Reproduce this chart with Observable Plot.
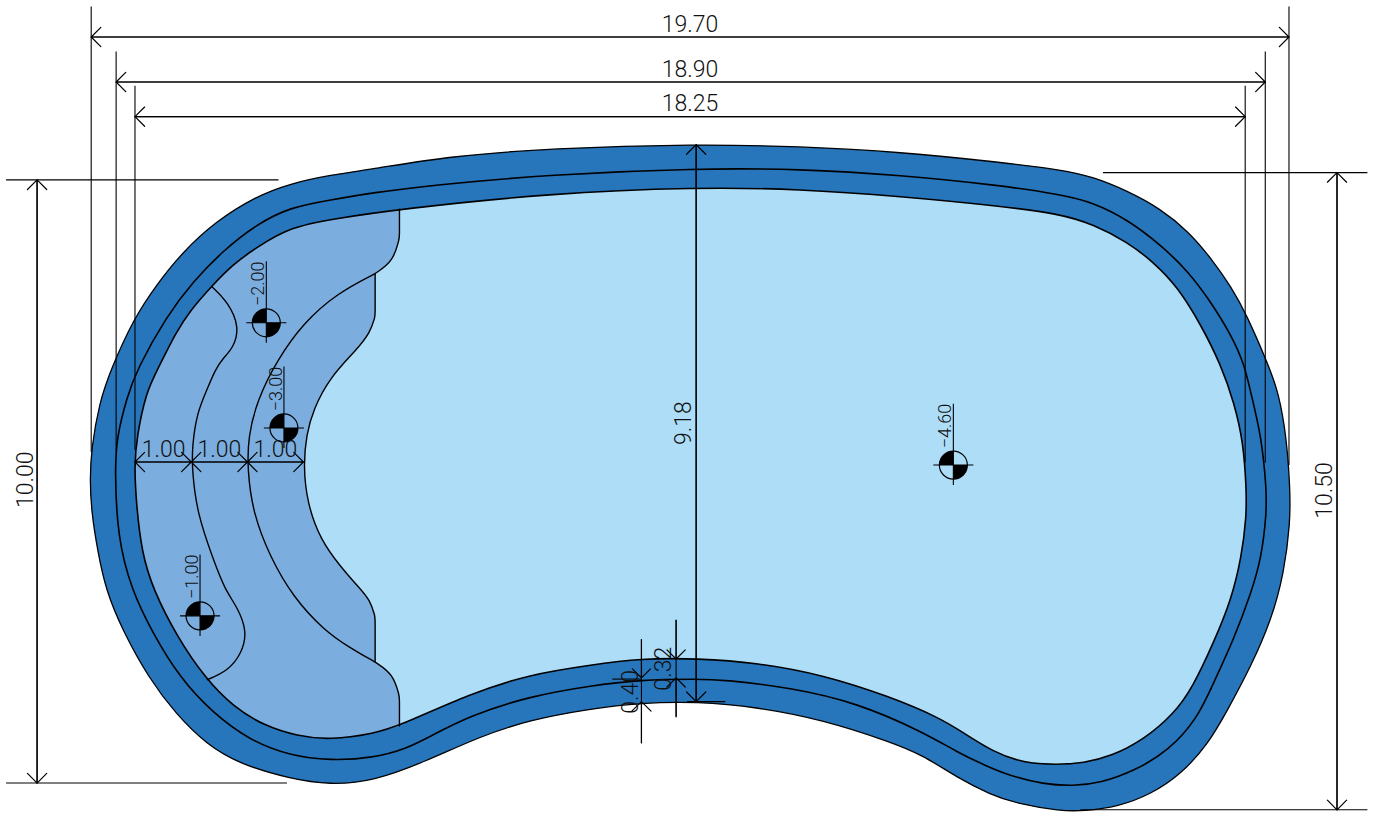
<!DOCTYPE html>
<html>
<head>
<meta charset="utf-8">
<script src="https://cdn.jsdelivr.net/npm/d3@7"></script>
<script src="https://cdn.jsdelivr.net/npm/@observablehq/plot@0.6"></script>
<style>html,body{margin:0;padding:0;background:#fff}svg{display:block}</style>
</head>
<body>
<div id="chart"></div>
<script>
// All geometry in metres.
const outerEdge = [[9.95,10.95],[11.66,10.91],[13.31,10.82],[14.95,10.65],[15.94,10.53],[16.48,10.41],[17.04,10.18],[17.58,9.89],[18.05,9.51],[18.42,9.07],[18.75,8.60],[19.00,8.15],[19.36,7.32],[19.53,6.86],[19.66,6.13],[19.72,5.26],[19.72,4.72],[19.62,3.90],[19.41,3.12],[19.07,2.35],[18.69,1.64],[18.37,1.08],[17.93,0.59],[17.44,0.26],[16.89,0.05],[16.32,-0.02],[15.94,-0.02],[15.23,0.10],[14.79,0.25],[14.24,0.53],[13.68,0.90],[13.14,1.12],[12.04,1.48],[10.95,1.69],[9.97,1.78],[9.03,1.76],[8.21,1.66],[7.22,1.48],[6.40,1.21],[5.49,0.79],[4.64,0.47],[3.93,0.41],[3.27,0.51],[2.45,0.75],[1.89,1.08],[1.39,1.58],[0.95,2.16],[0.51,2.96],[0.24,3.62],[0.11,4.23],[0,4.93],[-0.02,5.43],[0,5.92],[0.13,6.69],[0.33,7.26],[0.70,8.08],[1.07,8.63],[1.49,9.16],[2.05,9.68],[2.71,10.09],[3.27,10.30],[3.93,10.44],[4.64,10.54],[5.90,10.75],[7.55,10.88]];
const middleEdge = [[9.95,10.55],[11.66,10.54],[13.31,10.44],[14.95,10.27],[15.94,10.12],[16.48,9.99],[17.04,9.71],[17.58,9.30],[18.04,8.86],[18.41,8.36],[18.75,7.81],[18.97,7.32],[19.07,6.86],[19.25,6.13],[19.33,5.26],[19.33,4.88],[19.25,4.16],[19.08,3.57],[18.79,2.80],[18.46,2.09],[18.20,1.51],[17.72,0.97],[17.16,0.64],[16.60,0.44],[16.15,0.39],[15.66,0.42],[15.11,0.56],[14.70,0.73],[14.24,0.95],[13.68,1.28],[12.60,1.76],[11.50,2.01],[10.39,2.14],[9.97,2.15],[9.03,2.14],[8.21,2.04],[7.22,1.87],[6.23,1.55],[5.58,1.21],[5.20,1.01],[4.64,0.85],[3.93,0.81],[3.27,0.89],[2.61,1.14],[2.00,1.59],[1.45,2.18],[1.01,2.91],[0.66,3.62],[0.43,4.50],[0.39,5.59],[0.42,6.13],[0.59,6.79],[0.75,7.24],[1.24,8.12],[1.67,8.68],[2.16,9.19],[2.72,9.63],[3.27,9.91],[3.93,10.03],[4.64,10.15],[5.58,10.27],[7.55,10.45]];
const innerEdge = [[9.95,10.24],[11.66,10.21],[13.31,10.09],[14.95,9.93],[15.94,9.80],[16.48,9.63],[17.04,9.34],[17.47,9.01],[17.87,8.60],[18.25,7.98],[18.58,7.32],[18.80,6.69],[18.95,6.04],[19.00,5.26],[19.00,4.82],[18.92,4.16],[18.75,3.45],[18.46,2.75],[18.12,2.02],[17.81,1.58],[17.32,1.16],[16.78,0.88],[16.32,0.77],[15.89,0.74],[15.33,0.77],[14.84,0.95],[14.34,1.27],[13.96,1.51],[13.14,1.86],[12.04,2.22],[10.95,2.42],[9.97,2.49],[9.03,2.49],[8.21,2.38],[7.22,2.23],[6.23,1.91],[5.07,1.38],[4.64,1.25],[3.93,1.15],[3.39,1.21],[2.83,1.39],[2.34,1.69],[1.87,2.17],[1.41,2.85],[1.02,3.62],[0.83,4.23],[0.74,5.05],[0.71,5.67],[0.75,6.13],[0.90,6.86],[1.09,7.24],[1.40,7.86],[1.62,8.20],[1.98,8.61],[2.33,8.97],[2.72,9.25],[3.27,9.58],[3.93,9.71],[5.07,9.88],[7.55,10.14]];
const stepEdgeDeep = [[5.07,9.88],[5.07,9.88],[5.07,9.88],[5.07,9.41],[5.07,9.41],[4.97,9.02],[4.67,8.82],[4.67,8.82],[4.67,8.82],[4.67,8.12],[4.67,8.12],[4.59,7.85],[4.37,7.57],[3.93,7.12],[3.65,6.58],[3.54,6.17],[3.49,5.67],[3.55,5.05],[3.77,4.44],[4.10,4.00],[4.39,3.67],[4.59,3.45],[4.67,3.17],[4.67,3.17],[4.67,2.43],[4.67,2.43],[4.67,2.43],[4.97,2.23],[5.07,1.86],[5.07,1.86],[5.07,1.38],[5.07,1.38],[5.07,1.38]];
const shallowWall = [[4.64,1.25],[3.93,1.15],[3.39,1.21],[2.83,1.39],[2.34,1.69],[1.87,2.17],[1.41,2.85],[1.02,3.62],[0.83,4.23],[0.74,5.05],[0.71,5.67],[0.75,6.13],[0.90,6.86],[1.09,7.24],[1.40,7.86],[1.62,8.20],[1.98,8.61],[2.33,8.97],[2.72,9.25],[3.27,9.58],[3.93,9.71]];
const stepEdgeMid = [[4.67,8.82],[4.05,8.50],[3.49,8.01],[3.06,7.40],[2.73,6.74],[2.58,6.13],[2.57,5.59],[2.66,4.88],[2.94,4.16],[3.32,3.50],[3.82,2.96],[4.26,2.66],[4.67,2.43]];
const stepEdgeTop = [[1.99,8.60],[2.25,8.35],[2.44,7.94],[2.34,7.60],[2.17,7.43],[2.04,7.24],[1.90,6.90],[1.74,6.53],[1.66,5.97],[1.66,5.59],[1.74,4.88],[2.01,4.11],[2.20,3.62],[2.40,3.34],[2.57,2.93],[2.47,2.56],[2.24,2.28],[1.91,2.14]];

const levelText = ["−4.60","−3.00","−2.00","−1.00"];
const levelX = [14.18,3.17,2.88,1.79];
const levelY = [5.67,6.28,8.01,3.19];

// [x1,y1,x2,y2]
const dimensionLines = [
  [0,12.71,19.70,12.71],[0.41,11.97,19.31,11.97],[0.72,11.40,18.98,11.40],
  [-0.89,10.36,-0.89,0.44],[20.49,10.48,20.49,0],[9.95,10.94,9.95,1.78],
  [0.72,5.72,1.645,5.72],[1.645,5.72,2.57,5.72],[2.57,5.72,3.49,5.72]
];
const outsideArrows = [
  [9.05,2.80,9.05,2.17],[9.05,1.10,9.05,1.78],
  [9.62,3.12,9.62,2.48],[9.62,1.53,9.62,2.17]
];
const extensionLines = [
  [0,13.21,0,5.89],[19.70,13.21,19.70,5.67],
  [0.41,12.47,0.41,5.89],[19.31,12.47,19.31,5.71],
  [0.72,11.91,0.72,5.92],[18.98,11.91,18.98,5.71],
  [-1.40,10.36,3.08,10.36],[-1.40,0.44,3.22,0.44],
  [16.64,10.48,20.99,10.48],[16.27,0,20.99,0],
  [9.05,2.80,9.05,1.10],[9.62,3.12,9.62,1.53],
  [8.57,2.15,9.05,2.15],[9.80,1.78,10.43,1.78]
];
const horizontalLabels = ["19.70","18.90","18.25","1.00","1.00","1.00"];
const horizontalLabelX = [9.85,9.85,9.85,1.19,2.11,3.03];
const horizontalLabelY = [12.91,12.17,11.61,5.93,5.93,5.93];
const verticalLabels = ["10.00","10.50","9.18","0.40","0.32"];
const verticalLabelX = [-1.08,20.29,9.74,8.88,9.42];
const verticalLabelY = [5.43,5.25,6.36,1.94,2.32];

const bandBlue = "#2775BB", stairBlue = "#7BAEDF", poolBlue = "#AEDDF8";
const ink = "#000", labelInk = "#111";
const px = d => d[0], py = d => d[1];
const levels = levelText.map((t,i)=>({t,x:levelX[i],y:levelY[i]}));
const hLabels = horizontalLabels.map((t,i)=>({t,x:horizontalLabelX[i],y:horizontalLabelY[i]}));
const vLabels = verticalLabels.map((t,i)=>({t,x:verticalLabelX[i],y:verticalLabelY[i]}));
const seg = {x1:d=>d[0],y1:d=>d[1],x2:d=>d[2],y2:d=>d[3]};
const reversed = {x1:d=>d[2],y1:d=>d[3],x2:d=>d[0],y2:d=>d[1]};
const font = {fontFamily:"Roboto,'Liberation Sans',sans-serif",fontWeight:300,fontSize:23,fill:labelInk,textAnchor:"middle",letterSpacing:"1.2px"};

const quarters = {draw(c,size){
  const r = Math.sqrt(size/Math.PI);
  c.moveTo(0,0); c.lineTo(-r,0); c.arc(0,0,r,Math.PI,1.5*Math.PI); c.closePath();
  c.moveTo(0,0); c.lineTo(r,0); c.arc(0,0,r,0,0.5*Math.PI); c.closePath();
}};

const chart = Plot.plot({
  width:1377, height:813, margin:0,
  style:{background:"#fff"},
  x:{domain:[-1.4967,21.151],range:[-0.3,1376.7],axis:null},
  y:{domain:[-0.0493,13.322],range:[812.3,-0.7],axis:null},
  marks:[
    Plot.line(outerEdge,{x:px,y:py,curve:"basis-closed",fill:bandBlue,stroke:ink,strokeWidth:1.3}),
    Plot.line(middleEdge,{x:px,y:py,curve:"basis-closed",stroke:ink,strokeWidth:1.6}),
    Plot.line(innerEdge,{x:px,y:py,curve:"basis-closed",fill:poolBlue,stroke:"none"}),
    Plot.line(stepEdgeDeep.concat(shallowWall),{x:px,y:py,curve:"basis-closed",fill:stairBlue,stroke:"none"}),
    Plot.line(innerEdge,{x:px,y:py,curve:"basis-closed",stroke:ink,strokeWidth:1.6}),
    Plot.line(stepEdgeDeep,{x:px,y:py,curve:"basis",stroke:ink,strokeWidth:1.4}),
    Plot.line(stepEdgeMid,{x:px,y:py,curve:"basis",stroke:ink,strokeWidth:1.4}),
    Plot.line(stepEdgeTop,{x:px,y:py,curve:"basis",stroke:ink,strokeWidth:1.4}),
    Plot.link(extensionLines,{...seg,stroke:ink,strokeWidth:1.1}),
    Plot.arrow(dimensionLines,{...seg,stroke:ink,strokeWidth:1.2,headAngle:90,headLength:17}),
    Plot.arrow(dimensionLines,{...reversed,stroke:ink,strokeWidth:1.2,headAngle:90,headLength:17}),
    Plot.arrow(outsideArrows,{...seg,stroke:ink,strokeWidth:1.2,headAngle:90,headLength:17}),
    Plot.dot(levels,{x:"x",y:"y",r:14,fill:"none",stroke:ink,strokeWidth:1.2}),
    Plot.dot(levels,{x:"x",y:"y",r:14,symbol:quarters,fill:"#000",stroke:"none"}),
    Plot.link(levels,{x1:d=>d.x,x2:d=>d.x,y1:d=>d.y+1.01,y2:d=>d.y-0.33,stroke:ink,strokeWidth:1.1}),
    Plot.link(levels,{x1:d=>d.x-0.33,x2:d=>d.x+0.33,y1:"y",y2:"y",stroke:ink,strokeWidth:1.1}),
    Plot.text(levels,{x:"x",y:"y",text:"t",rotate:-90,dx:-8,dy:-39,fontFamily:"Roboto,'Liberation Sans',sans-serif",fontWeight:300,fontSize:18,fill:labelInk,textAnchor:"middle",letterSpacing:"0.6px"}),
    Plot.text(hLabels,{x:"x",y:"y",text:"t",...font}),
    Plot.text(vLabels,{x:"x",y:"y",text:"t",rotate:-90,...font})
  ]
});
document.getElementById("chart").appendChild(chart);
</script>
</body>
</html>
